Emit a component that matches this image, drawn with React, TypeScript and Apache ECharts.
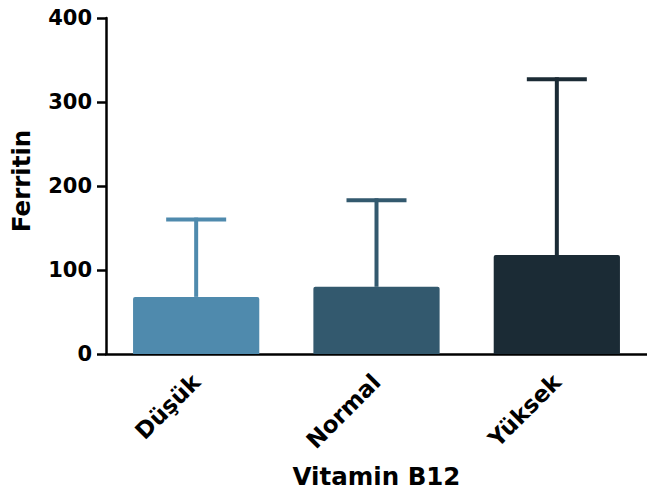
import React, { useEffect, useRef } from "react";
import * as echarts from "echarts";

const categories = ["Düşük", "Normal", "Yüksek"];
const means = [68, 80, 118];
const upper = [160, 183, 327];
const barColors = ["#4f8aad", "#33596e", "#1b2b35"];
const yTicks = { min: 0, max: 400, interval: 100 };

const FONT = "'DejaVu Sans', Arial, sans-serif";

export default function App() {
  const ref = useRef<HTMLDivElement>(null);
  useEffect(() => {
    const chart = echarts.init(ref.current!, null, { renderer: "svg" });
    chart.setOption({
      animation: false,
      grid: { left: 106, top: 18, width: 546, height: 336 },
      xAxis: {
        type: "category",
        data: categories,
        boundaryGap: true,
        axisLine: { lineStyle: { color: "#000", width: 2.5 } },
        axisTick: { alignWithLabel: true, length: 10, lineStyle: { width: 2.5, color: "#000" } },
        axisLabel: {
          rotate: 45,
          margin: 24,
          color: "#000",
          fontFamily: FONT,
          fontWeight: "bold",
          fontSize: 23,
        },
        name: "Vitamin B12",
        nameLocation: "middle",
        nameGap: 110,
        nameTextStyle: { color: "#000", fontFamily: FONT, fontWeight: "bold", fontSize: 24.5 },
      },
      yAxis: {
        type: "value",
        min: yTicks.min,
        max: yTicks.max,
        interval: yTicks.interval,
        splitLine: { show: false },
        axisLine: { show: true, lineStyle: { color: "#000", width: 2.5 } },
        axisTick: { show: true, length: 9, lineStyle: { width: 2.5, color: "#000" } },
        axisLabel: {
          margin: 14,
          color: "#000",
          fontFamily: FONT,
          fontWeight: "bold",
          fontSize: 21,
        },
        name: "Ferritin",
        nameLocation: "middle",
        nameGap: 72,
        nameTextStyle: { color: "#000", fontFamily: FONT, fontWeight: "bold", fontSize: 24.5, padding: [0, 0, 0, 10] },
      },
      series: [
        {
          type: "bar",
          barWidth: "70%",
          data: means.map((v, i) => ({ value: v, itemStyle: { color: barColors[i], borderRadius: [2, 2, 0, 0] } })),
          z: 2,
        },
        {
          type: "custom",
          z: 3,
          data: categories.map((c, i) => [i, means[i], upper[i]]),
          renderItem: (params: any, api: any) => {
            const idx = api.value(0);
            const lo = api.coord([idx, api.value(1)]);
            const hi = api.coord([idx, api.value(2)]);
            const half = 30;
            const color = barColors[params.dataIndex];
            const style = { stroke: color, lineWidth: 4, lineCap: "butt" };
            return {
              type: "group",
              children: [
                { type: "line", shape: { x1: lo[0], y1: lo[1], x2: hi[0], y2: hi[1] - 2 }, style },
                { type: "line", shape: { x1: hi[0] - half, y1: hi[1], x2: hi[0] + half, y2: hi[1] }, style },
              ],
            };
          },
        },
      ],
    });
    return () => chart.dispose();
  }, []);
  return <div ref={ref} style={{ position: "absolute", left: 0, top: 0, width: 647, height: 495 }} />;
}
